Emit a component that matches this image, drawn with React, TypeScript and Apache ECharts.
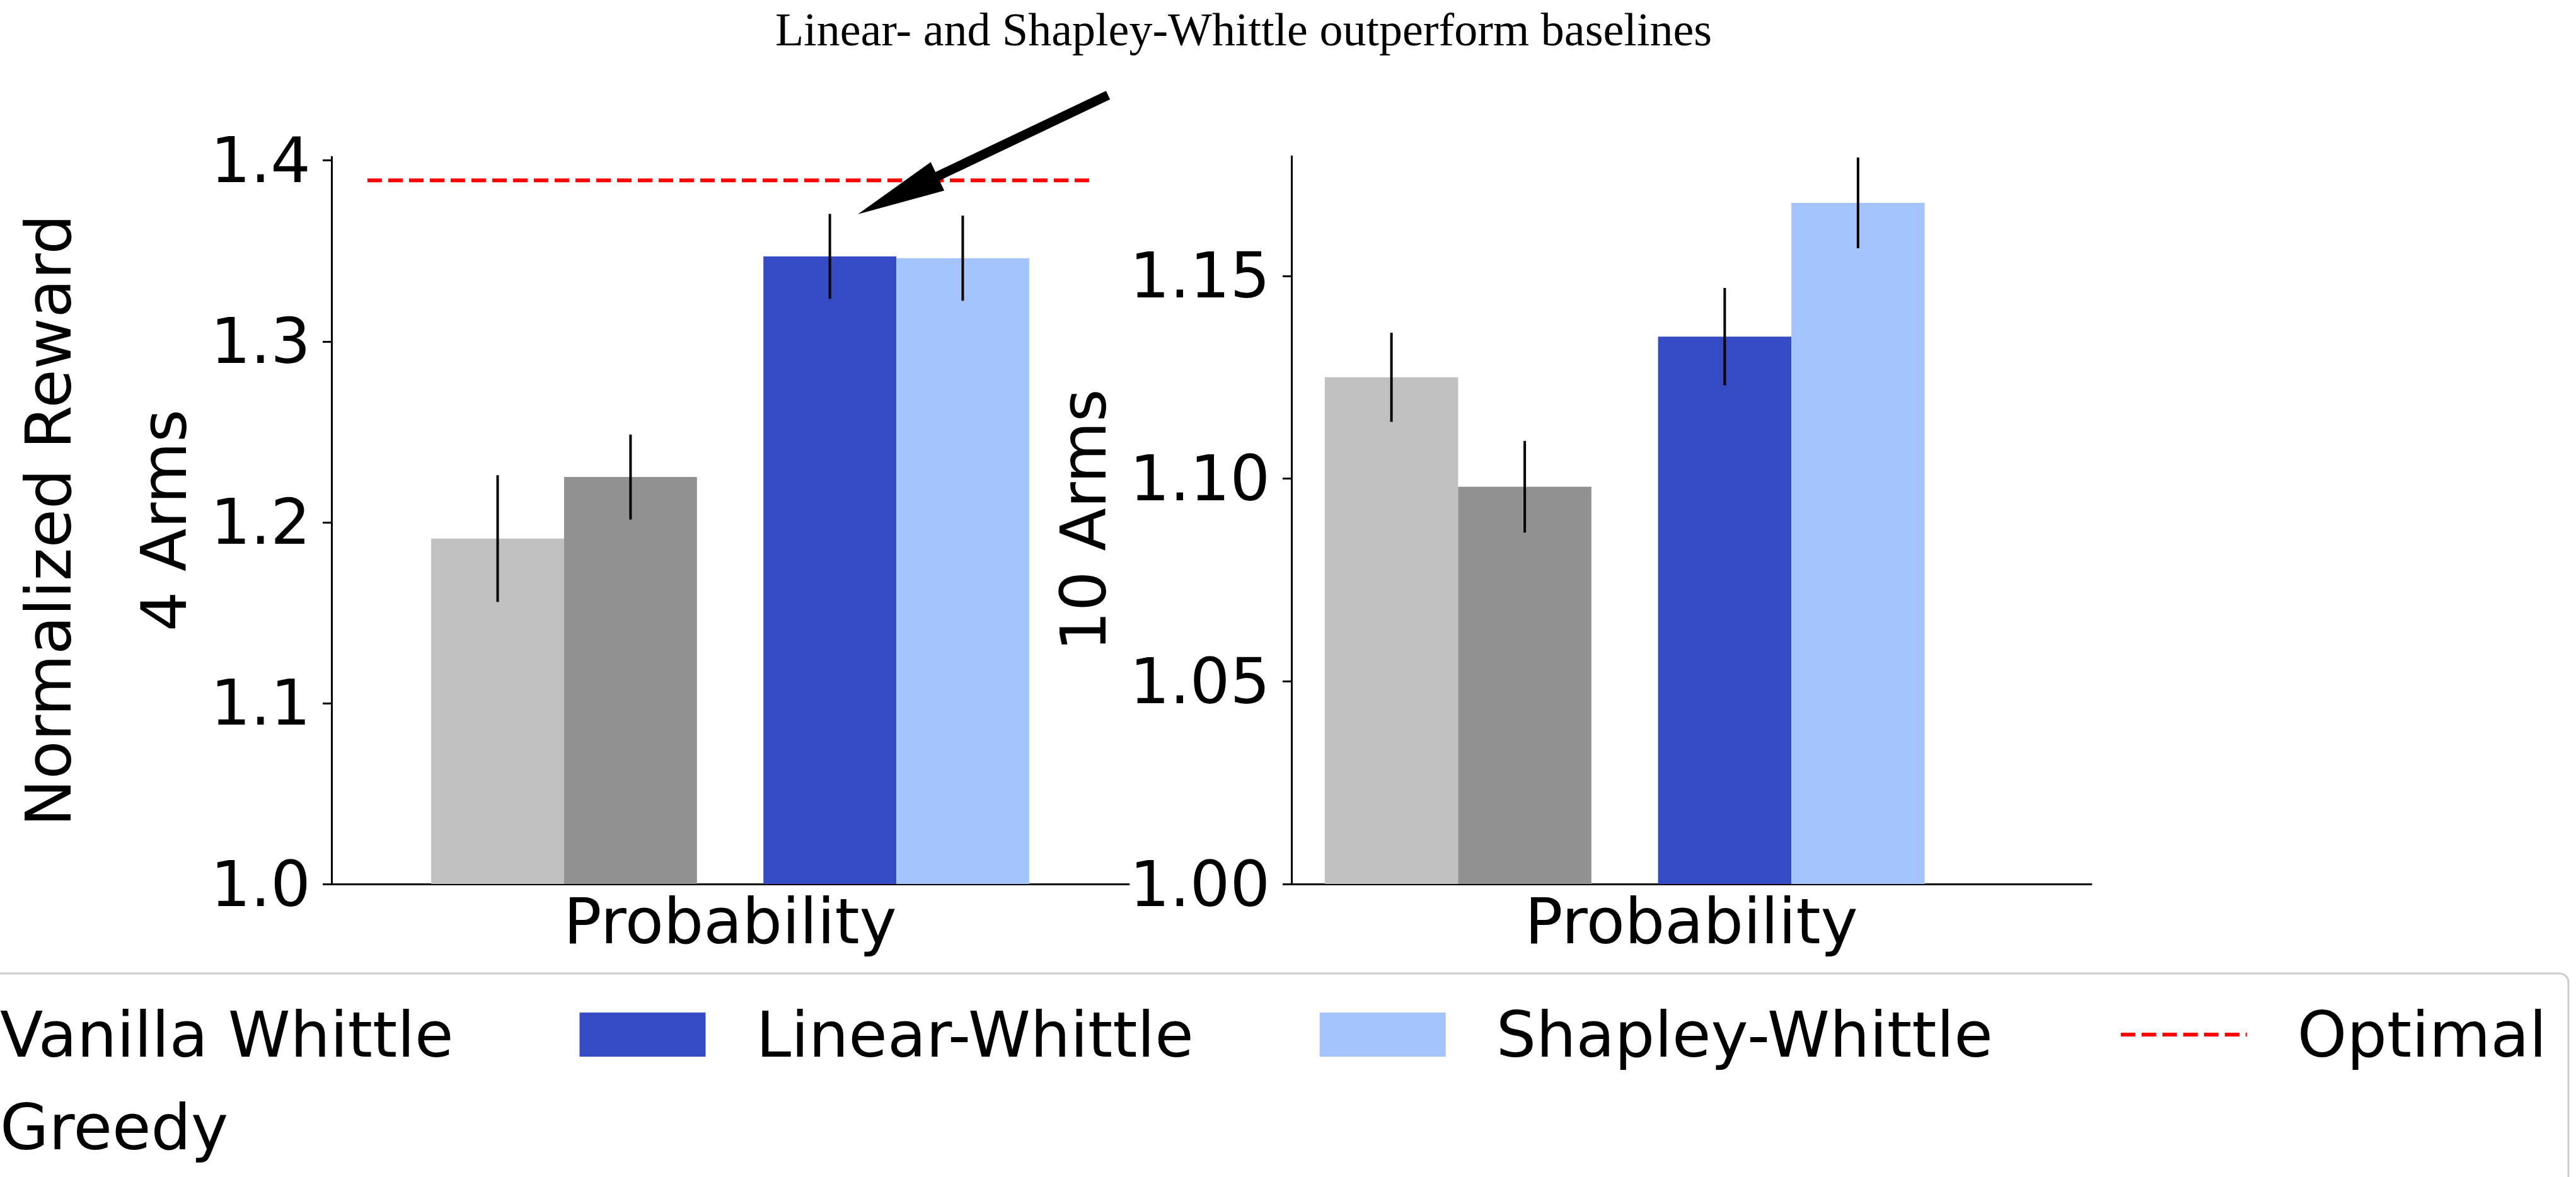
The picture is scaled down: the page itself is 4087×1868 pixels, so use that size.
import { useEffect, useRef } from "react";
import * as echarts from "echarts";

// Methods, in legend / bar order
const METHODS = ["Vanilla Whittle", "Greedy", "Linear-Whittle", "Shapley-Whittle"];
const COLORS = ["#c0c0c0", "#919191", "#344bc4", "#a5c3fd"];

// Normalized reward (mean and error) for the 4-arm setting
const REWARD_4_ARMS = [1.191, 1.225, 1.347, 1.346];
const ERROR_4_ARMS = [0.035, 0.0235, 0.0235, 0.0235];
const OPTIMAL_4_ARMS = 1.389;

// Normalized reward (mean and error) for the 10-arm setting
const REWARD_10_ARMS = [1.125, 1.098, 1.135, 1.168];
const ERROR_10_ARMS = [0.011, 0.0113, 0.012, 0.0112];

// Tick labels
const TICKS_4_ARMS = [1.0, 1.1, 1.2, 1.3, 1.4];
const TICKS_10_ARMS = [1.0, 1.05, 1.1, 1.15];

const TITLE = "Linear- and Shapley-Whittle outperform baselines";
const X_NAME = "Probability";
const Y_NAME_LEFT = "Normalized Reward\n4 Arms";
const Y_NAME_RIGHT = "10 Arms";
const OPTIMAL_NAME = "Optimal";

// Layout: bar slot centres on a 0..6 x-range (one unit = one bar width)
const SLOTS_LEFT = [1.25, 2.25, 3.75, 4.75];
const SLOTS_RIGHT = [0.75, 1.75, 3.25, 4.25];
const OPTIMAL_SPAN = [0.27, 5.73];
const Y_BASE = 1.0;

const SANS = "DejaVu Sans";
const FS = 100;
const RED = "#ff0000";
const OPTIMAL_DASH = [23, 10];

function arrowPoints(
  tail: number[],
  tip: number[],
  shaftW: number,
  headW: number,
  headL: number
) {
  const dx = tip[0] - tail[0];
  const dy = tip[1] - tail[1];
  const len = Math.hypot(dx, dy);
  const ux = dx / len;
  const uy = dy / len;
  const nx = -uy;
  const ny = ux;
  const bx = tip[0] - ux * headL;
  const by = tip[1] - uy * headL;
  const s = shaftW / 2;
  const h = headW / 2;
  return [
    [tail[0] + nx * s, tail[1] + ny * s],
    [bx + nx * s, by + ny * s],
    [bx + nx * h, by + ny * h],
    [tip[0], tip[1]],
    [bx - nx * h, by - ny * h],
    [bx - nx * s, by - ny * s],
    [tail[0] - nx * s, tail[1] - ny * s],
  ];
}

function barWithError(color: string) {
  return (_params: any, api: any) => {
    const x = api.value(0);
    const y = api.value(1);
    const e = api.value(2);
    const tl = api.coord([x - 0.5, y]);
    const br = api.coord([x + 0.5, Y_BASE]);
    const top = api.coord([x, y + e]);
    const bot = api.coord([x, y - e]);
    return {
      type: "group",
      children: [
        {
          type: "rect",
          shape: { x: tl[0], y: tl[1], width: br[0] - tl[0], height: br[1] - tl[1] },
          style: { fill: color },
        },
        {
          type: "line",
          shape: { x1: top[0], y1: top[1], x2: bot[0], y2: bot[1] },
          style: { stroke: "#000", lineWidth: 4 },
        },
      ],
    };
  };
}

function yAxisFor(
  gridIndex: number,
  max: number,
  ticks: number[],
  interval: number,
  digits: number,
  name: string,
  nameGap: number,
  lineHeight: number,
  margin: number
) {
  return {
    type: "value",
    gridIndex,
    min: Y_BASE,
    max,
    interval,
    name,
    nameLocation: "middle",
    nameRotate: 90,
    nameGap,
    nameMoveOverlap: false,
    nameTextStyle: { fontFamily: SANS, fontSize: FS, color: "#000", lineHeight },
    axisLine: { show: true, lineStyle: { color: "#000", width: 3 } },
    axisTick: { show: true, length: 14, lineStyle: { color: "#000", width: 3 }, customValues: ticks },
    axisLabel: {
      show: true,
      margin,
      fontFamily: SANS,
      fontSize: FS,
      color: "#000",
      customValues: ticks,
      formatter: (v: number) =>
        ticks.some((t) => Math.abs(t - v) < 1e-9) ? v.toFixed(digits) : "",
    },
    splitLine: { show: false },
  };
}

function xAxisFor(gridIndex: number) {
  return {
    type: "value",
    gridIndex,
    min: 0,
    max: 6,
    name: X_NAME,
    nameLocation: "middle",
    nameGap: 9,
    nameMoveOverlap: false,
    nameTextStyle: { fontFamily: SANS, fontSize: FS, color: "#000", lineHeight: 100 },
    axisLine: { show: true, onZero: false, lineStyle: { color: "#000", width: 3 } },
    axisTick: { show: false },
    axisLabel: { show: false },
    splitLine: { show: false },
  };
}

export default function App() {
  const ref = useRef<HTMLDivElement>(null);

  useEffect(() => {
    if (!ref.current) return;
    const chart = echarts.init(ref.current, undefined, { renderer: "svg" });

    const panels = [
      { values: REWARD_4_ARMS, errors: ERROR_4_ARMS, slots: SLOTS_LEFT },
      { values: REWARD_10_ARMS, errors: ERROR_10_ARMS, slots: SLOTS_RIGHT },
    ];

    const barSeries = panels.flatMap((p, gi) =>
      METHODS.map((name, mi) => ({
        type: "custom",
        name,
        xAxisIndex: gi,
        yAxisIndex: gi,
        itemStyle: { color: COLORS[mi] },
        renderItem: barWithError(COLORS[mi]),
        data: [[p.slots[mi], p.values[mi], p.errors[mi]]],
        z: 2,
      }))
    );

    const optimalSeries = {
      type: "line",
      name: OPTIMAL_NAME,
      xAxisIndex: 0,
      yAxisIndex: 0,
      symbol: "none",
      lineStyle: { color: RED, width: 6, type: OPTIMAL_DASH },
      itemStyle: { color: RED },
      data: [
        [OPTIMAL_SPAN[0], OPTIMAL_4_ARMS],
        [OPTIMAL_SPAN[1], OPTIMAL_4_ARMS],
      ],
      z: 3,
    };

    const legendText = {
      fontFamily: SANS,
      fontSize: FS,
      color: "#000",
      lineHeight: 70,
      padding: [0, 0, 0, 75],
    };
    const legendBase = {
      orient: "horizontal",
      left: -280,
      width: 4700,
      padding: 0,
      itemWidth: 200,
      itemHeight: 70,
      itemGap: 200,
      selectedMode: false,
      textStyle: legendText,
    };

    chart.setOption({
      animation: false,
      backgroundColor: "#ffffff",
      grid: [
        { left: 526, top: 249, width: 1265, height: 1154, outerBoundsMode: "none", containLabel: false },
        { left: 2049, top: 248, width: 1269, height: 1155, outerBoundsMode: "none", containLabel: false },
      ],
      xAxis: [xAxisFor(0), xAxisFor(1)],
      yAxis: [
        yAxisFor(0, 1.402, TICKS_4_ARMS, 0.1, 1, Y_NAME_LEFT, 174, 183, 33),
        yAxisFor(1, 1.1795, TICKS_10_ARMS, 0.05, 2, Y_NAME_RIGHT, 270, 120, 34),
      ],
      legend: [
        {
          ...legendBase,
          top: 1592,
          data: [
            { name: METHODS[0], icon: "rect" },
            { name: METHODS[2], icon: "rect" },
            { name: METHODS[3], icon: "rect" },
            {
              name: OPTIMAL_NAME,
              itemStyle: { color: "rgba(0,0,0,0)", opacity: 0, borderWidth: 0 },
              lineStyle: { color: RED, width: 6, type: OPTIMAL_DASH, opacity: 1 },
            },
          ],
        },
        {
          ...legendBase,
          top: 1739,
          data: [{ name: METHODS[1], icon: "rect" }],
        },
      ],
      graphic: [
        {
          type: "rect",
          z: -10,
          shape: { x: -340, y: 1545, width: 4415, height: 420, r: 14 },
          style: { fill: "#ffffff", stroke: "#cccccc", lineWidth: 3 },
        },
        {
          type: "text",
          x: 1973,
          y: 47,
          style: {
            text: TITLE,
            fill: "#000",
            fontFamily: "Liberation Serif",
            fontSize: 74,
            align: "center",
            verticalAlign: "middle",
          },
        },
        {
          type: "polygon",
          z: 10,
          shape: { points: arrowPoints([1758, 151], [1361, 340], 15, 50, 140) },
          style: { fill: "#000" },
        },
      ],
      series: [...barSeries, optimalSeries],
    });

    return () => chart.dispose();
  }, []);

  return (
    <div
      ref={ref}
      style={{ position: "absolute", left: 0, top: 0, width: 4087, height: 1868 }}
    />
  );
}
